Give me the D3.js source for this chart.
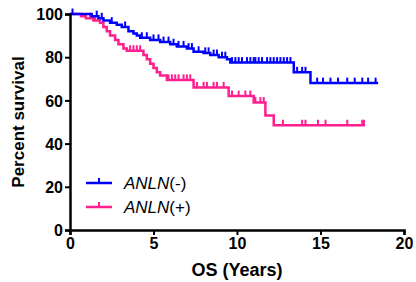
<!DOCTYPE html>
<html>
<head>
<meta charset="utf-8">
<script src="https://cdn.jsdelivr.net/npm/d3@7"></script>
<style>
  body { margin: 0; background: #fff; }
  text { font-family: "Liberation Sans", Arial, sans-serif; }
</style>
</head>
<body>
<svg id="chart" width="416" height="282"></svg>
<script>
// step points (time in years, percent survival)
var negTimes = [0, 1.3, 1.7, 2.0, 2.4, 2.8, 3.1, 3.5, 3.8, 4.0, 4.2, 4.8, 5.4, 6.0, 6.4, 7.0, 7.4, 8.0, 8.4, 8.9, 9.4, 9.6, 13.4, 14.4];
var negSurv  = [100, 99, 98, 97, 96, 95, 94, 92, 91, 90, 89, 88, 87, 86, 85, 84, 82.5, 82, 81, 80, 79, 77.5, 73, 68];
var negEnd = 18.45;
var negCensor = [0.15, 1.6, 1.9, 2.5, 3.3, 4.3, 4.6, 5.0, 5.3, 5.6, 5.9, 6.2, 6.5, 6.8, 7.1, 7.3, 7.7, 8.1, 8.3, 8.6, 8.8,
  9.1, 9.3, 9.7, 9.9, 10.1, 10.3, 10.6, 10.8, 11.0, 11.1, 11.3, 11.5, 11.8, 12.0, 12.2, 12.4, 12.6, 12.8, 13.0, 13.2,
  13.6, 13.9, 14.1, 14.8, 15.15, 15.6, 16.05, 16.6, 17.05, 17.5, 17.85, 18.3];

var posTimes = [0, 0.66, 0.95, 1.4, 1.8, 2.0, 2.2, 2.4, 2.7, 2.9, 3.2, 3.4, 4.4, 4.6, 4.8, 5.0, 5.2, 5.4, 5.8, 7.4, 9.5, 11.0, 11.7, 12.2];
var posSurv  = [100, 99, 98, 97, 96, 94, 92, 90, 88, 86, 84, 83, 81, 79, 77, 75, 73, 71.5, 69.5, 66, 62, 59, 53, 48.5];
var posEnd = 17.66;
var posCensor = [1.2, 1.5, 3.6, 3.8, 4.0, 4.2, 5.9, 6.1, 6.3, 6.5, 6.8, 7.0, 7.2, 7.6, 8.0, 8.2, 8.6, 8.8, 9.2,
  9.7, 10.1, 10.5, 10.8, 11.1, 11.4, 11.6, 12.75, 13.9, 14.1, 14.85, 15.3, 16.6, 17.5, 17.6];

var xTicks = [0, 5, 10, 15, 20];
var yTicks = [0, 20, 40, 60, 80, 100];
var groups = ["(-)", "(+)"];
var colors = ["#0000ff", "#ff1f8e"];

var svg = d3.select("#chart");
var x = d3.scaleLinear().domain([0, 20]).range([70, 404]);
var y = d3.scaleLinear().domain([0, 100]).range([230, 14]);

function survAt(times, surv, t) {
  var i = d3.bisectRight(times, t) - 1;
  return surv[Math.max(i, 0)];
}

var line = d3.line()
  .x(function(d) { return x(d[0]); })
  .y(function(d) { return y(d[1]); })
  .curve(d3.curveStepAfter);

var series = [
  {times: negTimes, surv: negSurv, end: negEnd, censor: negCensor, color: colors[0]},
  {times: posTimes, surv: posSurv, end: posEnd, censor: posCensor, color: colors[1]}
];

// pink first so blue sits on top
series.slice().reverse().forEach(function(s) {
  var pts = s.times.map(function(t, i) { return [t, s.surv[i]]; });
  pts.push([s.end, s.surv[s.surv.length - 1]]);
  svg.append("path")
    .attr("d", line(pts))
    .attr("fill", "none")
    .attr("stroke", s.color)
    .attr("stroke-width", 2.5);
  svg.selectAll(null).data(s.censor).enter().append("line")
    .attr("x1", function(t) { return x(t); })
    .attr("x2", function(t) { return x(t); })
    .attr("y1", function(t) { return y(survAt(s.times, s.surv, t)); })
    .attr("y2", function(t) { return y(survAt(s.times, s.surv, t)) - 5.5; })
    .attr("stroke", s.color)
    .attr("stroke-width", 2);
});

// axes
var xAxis = svg.append("g")
  .attr("transform", "translate(0,230)")
  .call(d3.axisBottom(x).tickValues(xTicks).tickSize(5).tickPadding(3));
var yAxis = svg.append("g")
  .attr("transform", "translate(70,0)")
  .call(d3.axisLeft(y).tickValues(yTicks).tickSize(5).tickPadding(2));
[xAxis, yAxis].forEach(function(g) {
  g.select(".domain").attr("stroke", "#000").attr("stroke-width", 2.5);
  g.selectAll(".tick line").attr("stroke", "#000").attr("stroke-width", 2);
  g.selectAll(".tick text")
    .attr("fill", "#000")
    .style("font-family", "'Liberation Sans', Arial, sans-serif")
    .style("font-size", "16px")
    .style("font-weight", "bold");
});
yAxis.selectAll(".tick text").attr("dy", "0.36em");

svg.append("text")
  .attr("x", x(10))
  .attr("y", 276)
  .attr("text-anchor", "middle")
  .style("font-size", "18px")
  .style("font-weight", "bold")
  .text("OS (Years)");

svg.append("text")
  .attr("transform", "translate(24,122) rotate(-90)")
  .attr("text-anchor", "middle")
  .style("font-size", "17px")
  .style("font-weight", "bold")
  .text("Percent survival");

// legend
groups.forEach(function(g, i) {
  var ly = 183 + i * 24;
  svg.append("line").attr("x1", 86).attr("x2", 112).attr("y1", ly).attr("y2", ly)
    .attr("stroke", colors[i]).attr("stroke-width", 2.5);
  svg.append("line").attr("x1", 99).attr("x2", 99).attr("y1", ly).attr("y2", ly - 5)
    .attr("stroke", colors[i]).attr("stroke-width", 2);
  var t = svg.append("text").attr("x", 124).attr("y", ly + 6)
    .style("font-size", "17px");
  t.append("tspan").style("font-style", "italic").text("ANLN");
  t.append("tspan").text(g);
});
</script>
</body>
</html>
